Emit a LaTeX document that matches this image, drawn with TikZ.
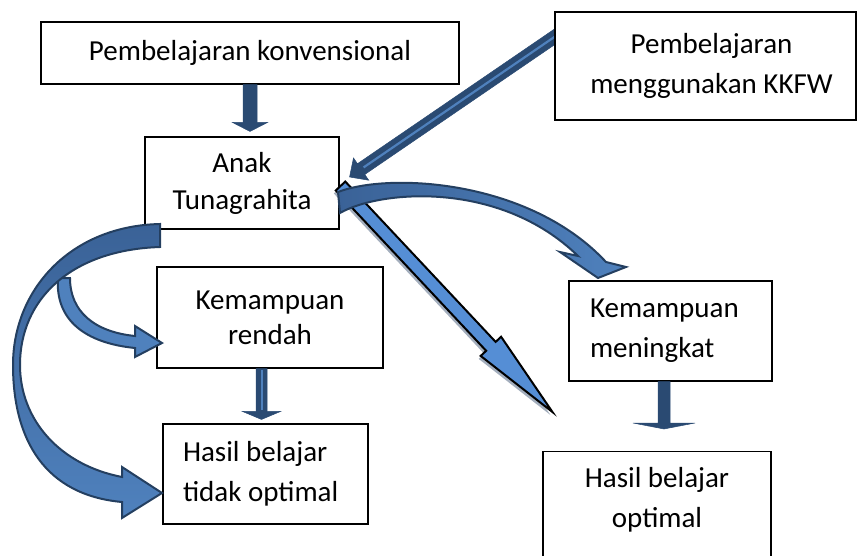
\documentclass[tikz,border=0pt]{standalone}
\usepackage{fontspec}
\setmainfont{Carlito}
\usetikzlibrary{calc,backgrounds}
\definecolor{outl}{HTML}{243F60}
\definecolor{navy}{HTML}{2A4A72}
\definecolor{midb}{HTML}{4F81BD}
\definecolor{backb}{HTML}{3A6297}
\definecolor{cblue}{HTML}{558ED5}
\definecolor{shad}{HTML}{A3AEBD}
\newcommand\blkarrow[6]{%
  \coordinate (baS) at (#2);
  \coordinate (baT) at (#3);
  \coordinate (baB) at ($(baT)!#6!(baS)$);
  \path[#1] ($(baS)!#4!90:(baT)$) -- ($(baB)!#4!90:(baT)$) -- ($(baB)!#5!90:(baT)$) -- (baT)
    -- ($(baB)!#5!-90:(baT)$) -- ($(baB)!#4!-90:(baT)$) -- ($(baS)!#4!-90:(baT)$) -- cycle;}
\begin{document}
\begin{tikzpicture}[x=1pt,y=-1pt,
  box/.style={draw=black, line width=1.1pt, fill=white, inner xsep=0pt, inner ysep=0pt, align=flush center, font=\fontsize{29}{40}\selectfont},
  txt/.style={inner sep=0pt, align=flush center, font=\fontsize{29}{40}\selectfont},
  solidarr/.style={fill=navy, draw=navy, line width=0.5pt, line join=miter},
  stripe/.style={draw=midb, line width=2.2pt},
  bigarr/.style={fill=cblue, draw=black, line width=2pt, line join=miter},
  shadarr/.style={fill=shad},
  curvarr/.style={draw=outl, line width=2pt, line join=miter}]
\useasboundingbox (0,0) rectangle (857,556);

% boxes
\node[box, text width=418pt, minimum height=62pt] (b1) at (250,53) {Pembelajaran konvensional};
\node[box, text width=301pt, minimum height=108pt] (b2) at (705.5,66) {\hspace*{12pt}Pembelajaran\\\hspace*{12pt}menggunakan KKFW};
\node[box, text width=194pt, minimum height=92pt, font=\fontsize{29}{37}\selectfont] (b3) at (242,183) {Anak\\Tunagrahita};
\node[box, text width=226pt, minimum height=101pt, font=\fontsize{29}{35}\selectfont] (b4) at (270,317.5) {Kemampuan\\rendah};
\node[box, inner xsep=20pt, text width=165pt, align=flush left, minimum height=100pt] (b5) at (265.5,474) {Hasil belajar\\tidak optimal};
\node[box, inner xsep=21pt, text width=161pt, align=flush left, minimum height=100pt] (b6) at (670.5,331) {Kemampuan\\meningkat};
\node[box, text width=228pt, minimum height=120pt, anchor=north] (b7) at (657,451) {};
\node[txt] (b7t) at (657,500) {Hasil belajar\\optimal};

% arrow from KKFW box (behind the box)
\begin{pgfonlayer}{background}
  \coordinate (bS) at ($(b2.north west)+(8,20)$);
  \coordinate (bT) at ($(b3.east)+(10,-6)$);
  \blkarrow{solidarr}{bS}{bT}{6.5pt}{13.5pt}{14pt}
  \draw[stripe] (bS) -- ($(bT)!17pt!(bS)$);
\end{pgfonlayer}

% straight down arrows
\coordinate (aS) at (b1.south);
\coordinate (aT) at ($(b3.north)+(8,-5)$);
\blkarrow{solidarr}{aS}{aT}{7pt}{17.5pt}{9pt}

\coordinate (gS) at ($(b4.south)+(-8.5,0)$);
\coordinate (gT) at ($(b5.north)+(-4,-4)$);
\blkarrow{solidarr}{gS}{gT}{5.5pt}{19pt}{8pt}
\draw[stripe, line width=2pt] ($(gS)+(0,1)$) -- ($(gT)+(0,-9)$);

\coordinate (hS) at ($(b6.south)+(-6.5,0)$);
\coordinate (hT) at ($(b7.north)+(7,-22)$);
\blkarrow{solidarr}{hS}{hT}{6pt}{31pt}{6pt}

% big diagonal arrow
\coordinate (cS) at ($(b3.east)+(1,3)$);
\coordinate (cT) at ($(b7.north west)+(10,-39)$);
\blkarrow{shadarr}{$(cS)+(-2,3)$}{$(cT)+(-2,3)$}{6.5pt}{14pt}{90pt}
\blkarrow{bigarr}{cS}{cT}{6.5pt}{14pt}{90pt}

% curved arrow to Kemampuan meningkat
\path[curvarr, left color=backb, right color=midb]
  (338,192) .. controls (390,172) and (530,180) .. (606,262)
  -- (626,267) -- (598,278) -- (560,252) -- (578,256)
  .. controls (500,180) and (380,190) .. (340,213) -- cycle;

% small curved arrow to Kemampuan rendah
\path[curvarr, fill=midb]
  (58,278) .. controls (55,320) and (85,343) .. (135,348)
  -- (135,357) -- (162,343) -- (135,326) -- (135,336)
  .. controls (95,332) and (70,312) .. (70,278) -- cycle;

% big curved arrow to Hasil belajar tidak optimal
\path[curvarr, top color=backb, bottom color=midb]
  (160,224) .. controls (70,226) and (13,290) .. (13,365)
  .. controls (13,440) and (45,495) .. (122,502)
  -- (122,518) -- (162,493) -- (122,467) -- (122,477)
  .. controls (60,465) and (20,420) .. (20,365)
  .. controls (20,300) and (70,250) .. (160,247) -- cycle;
\end{tikzpicture}
\end{document}
